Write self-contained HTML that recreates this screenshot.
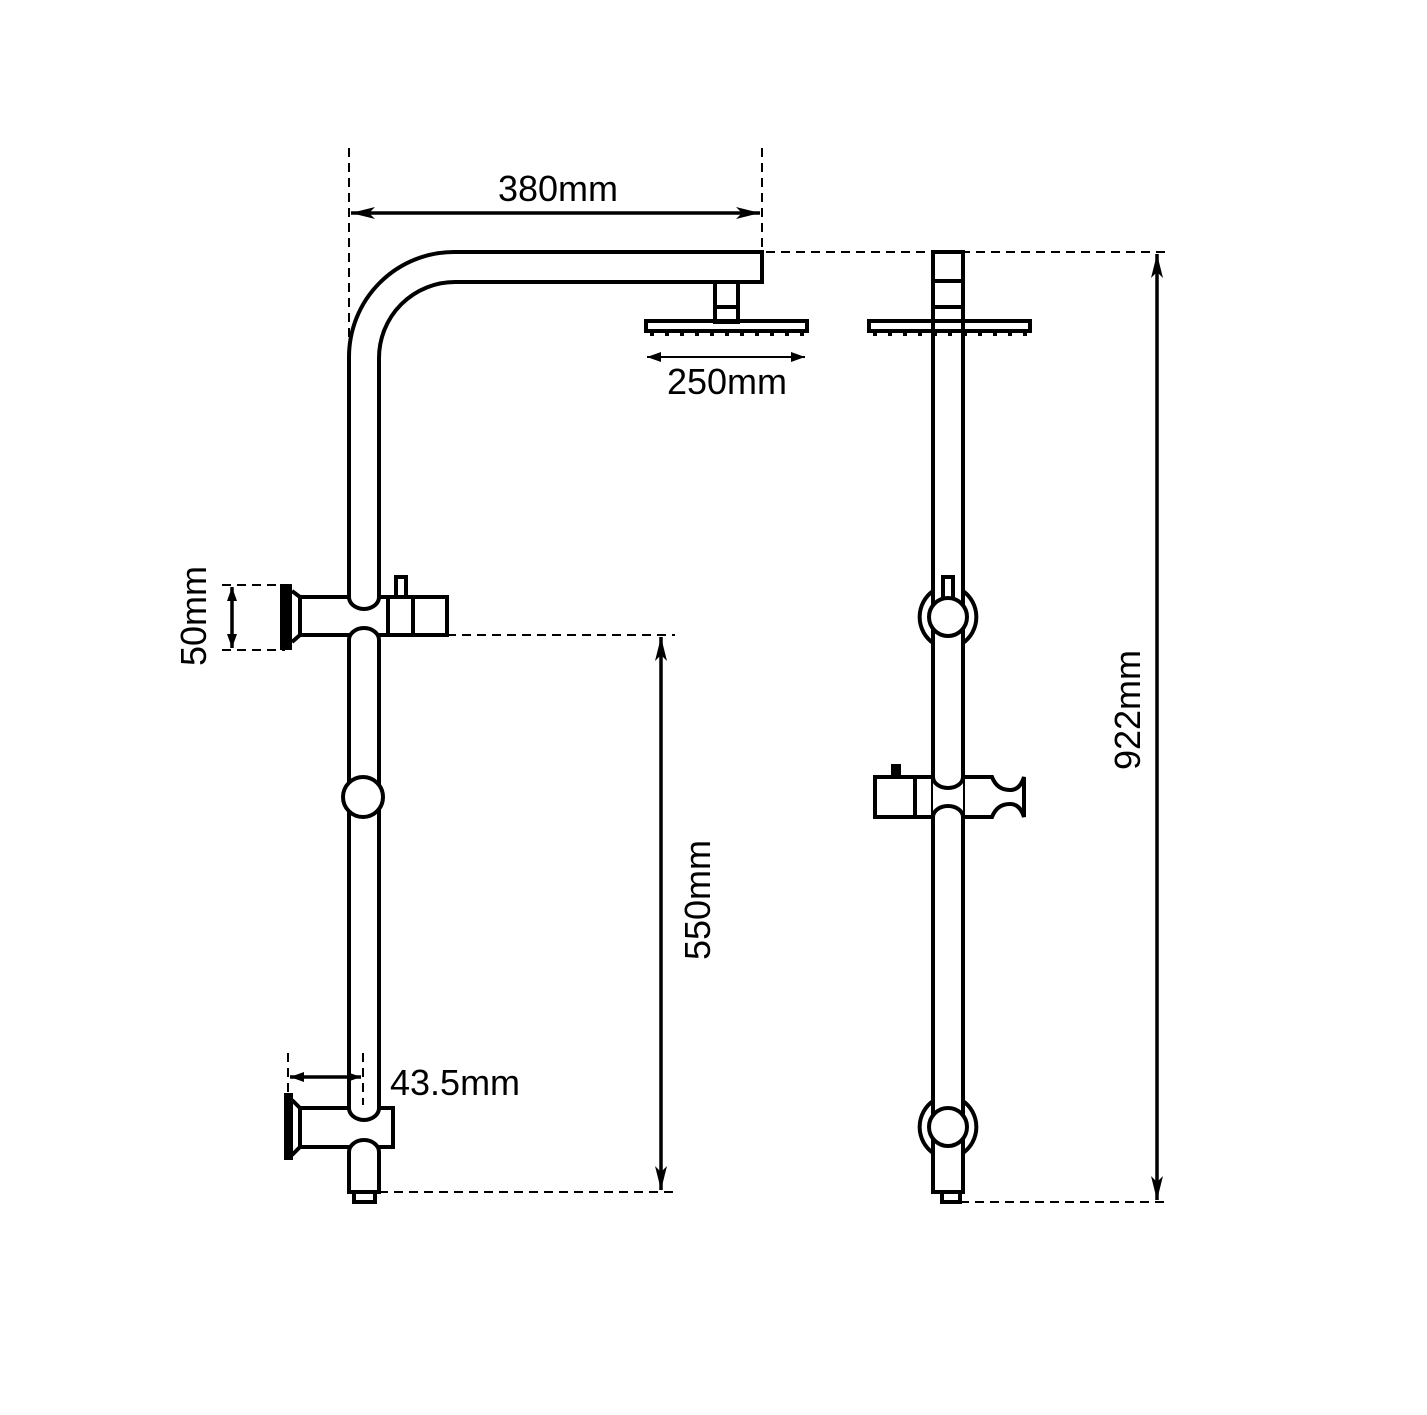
<!DOCTYPE html>
<html><head><meta charset="utf-8"><style>
html,body{margin:0;padding:0;background:#fff;}
svg{display:block;}
text{font-family:"Liberation Sans",sans-serif;font-size:36px;fill:#000;}
</style></head><body>
<svg width="1427" height="1415" viewBox="0 0 1427 1415" xmlns="http://www.w3.org/2000/svg">
<defs>
<marker id="a" viewBox="0 0 24 12" refX="24" refY="6" markerWidth="24" markerHeight="12" markerUnits="userSpaceOnUse" orient="auto-start-reverse"><path d="M0,0 L24,6 L0,12 L6,6 Z" fill="#000"/></marker>
<marker id="s" viewBox="0 0 14 10" refX="14" refY="5" markerWidth="14" markerHeight="10" markerUnits="userSpaceOnUse" orient="auto-start-reverse"><path d="M0,0 L14,5 L0,10 Z" fill="#000"/></marker>
</defs>
<g fill="none" stroke="#000" stroke-width="4">
<path d="M349,597 L349,357 A105,105 0 0 1 454,252 L762,252 L762,282 L455,282 A76,76 0 0 0 379,358 L379,597"/>
<path d="M349,597 A15,12 0 0 0 379,597"/>
<rect x="715" y="282" width="23" height="40"/>
<line x1="715" y1="307" x2="738" y2="307"/>
<rect x="646" y="321" width="161" height="10"/>
<path d="M300,597 L349,597 M379,597 L447,597 L447,635 L379,635 M349,635 L300,635 Z"/>
<line x1="300" y1="597" x2="300" y2="635"/>
<path d="M292,591 L300,597 M292,642 L300,635"/>
<line x1="388" y1="597" x2="388" y2="635"/>
<line x1="413" y1="597" x2="413" y2="635"/>
<rect x="396" y="577" width="10" height="20"/>
<path d="M349,1108 L349,640 A15,12 0 0 1 379,640 L379,1108"/>
<circle cx="363" cy="797" r="20" fill="#fff"/>
<path d="M349,1108 L300,1108 L300,1147 L349,1147 M379,1108 L393,1108 L393,1147 L379,1147"/>
<path d="M349,1108 A15,12 0 0 0 379,1108"/>
<path d="M292,1100 L300,1108 M292,1155 L300,1147"/>
<path d="M349,1192 L349,1152 A15,12 0 0 1 379,1152 L379,1192 Z"/>
<rect x="354" y="1192" width="21" height="10"/>
<rect x="933" y="252" width="30" height="940"/>
<line x1="933" y1="281" x2="963" y2="281"/>
<line x1="933" y1="307" x2="963" y2="307"/>
<rect x="869" y="321" width="161" height="10"/>
<rect x="943" y="577" width="10" height="23"/>
<path d="M933,643 A32,32 0 0 1 933,591 M963,591 A32,32 0 0 1 963,643"/>
<circle cx="948" cy="617" r="19" fill="#fff"/>
<path d="M933,1153 A32,32 0 0 1 933,1101 M963,1101 A32,32 0 0 1 963,1153"/>
<circle cx="948" cy="1127" r="19" fill="#fff"/>
<rect x="942" y="1192" width="18" height="10"/>
<rect x="933" y="777" width="30" height="40" fill="#fff" stroke="none"/>
<path d="M875,777 L933,777 A15,11 0 0 0 963,777 L992,777 Q997,790 1010,790 Q1020,790 1024,777 L1024,817 Q1020,804 1010,804 Q997,804 992,817 L963,817 A15,11 0 0 0 933,817 L875,817 Z"/>
<line x1="915" y1="777" x2="915" y2="817"/>
</g>
<g fill="#000">
<rect x="280" y="584" width="12" height="66"/>
<rect x="284" y="1093" width="9" height="67"/>
<rect x="891" y="764" width="10" height="13"/>
</g>
<g stroke="#000" stroke-width="4" stroke-dasharray="4,11">
<line x1="650" y1="334" x2="805" y2="334"/>
<line x1="873" y1="334" x2="1028" y2="334"/>
</g>
<g stroke="#000" stroke-width="2" stroke-dasharray="9,6" fill="none">
<line x1="349" y1="148" x2="349" y2="340"/>
<line x1="762" y1="148" x2="762" y2="252"/>
<line x1="766" y1="252" x2="1165" y2="252"/>
<line x1="960" y1="1202" x2="1165" y2="1202"/>
<line x1="447" y1="635" x2="675" y2="635"/>
<line x1="379" y1="1192" x2="675" y2="1192"/>
<line x1="222" y1="585" x2="285" y2="585"/>
<line x1="222" y1="650" x2="285" y2="650"/>
<line x1="288" y1="1053" x2="288" y2="1095"/>
<line x1="363" y1="1053" x2="363" y2="1105"/>
</g>
<g stroke="#000" stroke-width="3.5">
<line x1="351" y1="213" x2="760" y2="213" marker-start="url(#a)" marker-end="url(#a)"/>
<line x1="1157" y1="254" x2="1157" y2="1200" marker-start="url(#a)" marker-end="url(#a)"/>
<line x1="661" y1="637" x2="661" y2="1190" marker-start="url(#a)" marker-end="url(#a)"/>
<line x1="232" y1="587" x2="232" y2="648" marker-start="url(#s)" marker-end="url(#s)"/>
<line x1="290" y1="1077" x2="361" y2="1077" marker-start="url(#s)" marker-end="url(#s)"/>
<line x1="647" y1="357" x2="805" y2="357" stroke-width="2" marker-start="url(#s)" marker-end="url(#s)"/>
</g>
<text x="558" y="201" text-anchor="middle">380mm</text>
<text x="727" y="394" text-anchor="middle">250mm</text>
<text x="390" y="1095">43.5mm</text>
<text transform="translate(1140,710) rotate(-90)" text-anchor="middle">922mm</text>
<text transform="translate(710,900) rotate(-90)" text-anchor="middle">550mm</text>
<text transform="translate(206,616) rotate(-90)" text-anchor="middle">50mm</text>
</svg>
</body></html>
